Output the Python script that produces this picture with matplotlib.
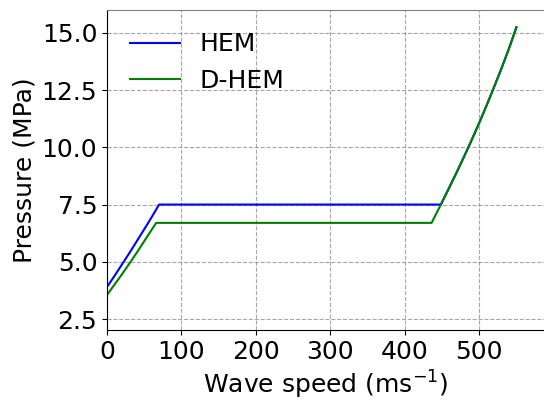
import numpy as np
import matplotlib.pyplot as plt

# Pressure along the wave speed, HEM vs D-HEM
hem_speed = [0, 10, 20, 30, 40, 50, 60, 70, 448.5, 460, 470, 480, 490, 500, 510, 520, 530, 540, 550]
hem_pressure = [3.9, 4.38, 4.88, 5.38, 5.9, 6.42, 6.95, 7.5, 7.5, 8.26, 8.93, 9.62, 10.33, 11.07, 11.84, 12.64, 13.46, 14.32, 15.25]

dhem_speed = [0, 10, 20, 30, 40, 50, 60, 66, 436, 448.5, 460, 470, 480, 490, 500, 510, 520, 530, 540, 550]
dhem_pressure = [3.55, 4.0, 4.45, 4.92, 5.4, 5.9, 6.4, 6.7, 6.7, 7.5, 8.26, 8.93, 9.62, 10.33, 11.07, 11.84, 12.64, 13.46, 14.32, 15.25]

plt.rcParams['font.family'] = 'DejaVu Sans'
fs = 18

fig = plt.figure(figsize=(5.44, 4.0), dpi=100)
ax = fig.add_axes([107/544, 70/400, 437/544, 320/400])

ax.plot(hem_speed, hem_pressure, color='blue', lw=1.5, label='HEM')
ax.plot(dhem_speed, dhem_pressure, color='green', lw=1.5, label='D-HEM')

ax.set_xlim(0, 587)
ax.set_ylim(2.02, 16.0)
ax.set_xticks([0, 100, 200, 300, 400, 500])
ax.set_yticks([2.5, 5.0, 7.5, 10.0, 12.5, 15.0])
ax.tick_params(labelsize=fs)
ax.set_xlabel('Wave speed (ms$^{-1}$)', fontsize=fs)
ax.set_ylabel('Pressure (MPa)', fontsize=fs)

ax.grid(True, color='gray', linestyle='--', alpha=0.7)
ax.spines['top'].set_color('gray')
ax.spines['right'].set_visible(False)

ax.legend(loc='upper left', frameon=False, fontsize=fs)

fig.savefig('out.png', dpi=100)
